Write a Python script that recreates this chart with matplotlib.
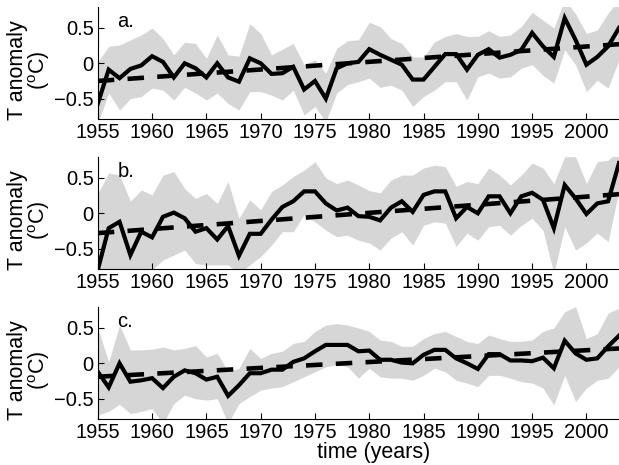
import numpy as np
import matplotlib.pyplot as plt

plt.rcParams['font.family'] = ['Liberation Sans', 'DejaVu Sans']
plt.rcParams['mathtext.fontset'] = 'custom'
plt.rcParams['mathtext.rm'] = 'Liberation Sans'

years = np.arange(1955, 2004)
trend_years = [1955, 2003]

# panel a
mean_a = [-0.57, -0.09, -0.21, -0.08, -0.03, 0.10, 0.02, -0.20, 0.00, -0.07,
          -0.20, 0.00, -0.20, -0.26, 0.07, 0.00, -0.15, -0.14, -0.05, -0.37,
          -0.25, -0.50, -0.07, 0.00, 0.02, 0.20, 0.12, 0.05, -0.02, -0.23,
          -0.23, -0.05, 0.13, 0.13, -0.09, 0.12, 0.20, 0.08, 0.12, 0.19,
          0.43, 0.24, 0.09, 0.64, 0.33, -0.02, 0.09, 0.24, 0.50]
upper_a = [0.02, 0.24, 0.26, 0.33, 0.40, 0.50, 0.35, 0.12, 0.30, 0.28,
           0.07, 0.40, 0.12, 0.10, 0.56, 0.42, 0.12, 0.20, 0.28, -0.02,
           0.05, -0.14, 0.21, 0.32, 0.33, 0.58, 0.52, 0.35, 0.28, 0.09,
           0.09, 0.30, 0.38, 0.42, 0.38, 0.38, 0.46, 0.38, 0.40, 0.52,
           0.72, 0.61, 0.50, 0.90, 0.70, 0.42, 0.47, 0.71, 0.90]
lower_a = [-0.85, -0.42, -0.66, -0.50, -0.47, -0.35, -0.38, -0.52, -0.34, -0.42,
           -0.52, -0.42, -0.57, -0.66, -0.40, -0.40, -0.45, -0.52, -0.38, -0.73,
           -0.61, -0.83, -0.42, -0.30, -0.26, -0.21, -0.34, -0.31, -0.38, -0.61,
           -0.47, -0.38, -0.26, -0.26, -0.52, -0.19, -0.14, -0.21, -0.19, -0.07,
           -0.02, -0.17, -0.28, 0.19, -0.02, -0.40, -0.24, -0.35, 0.05]
trend_a = [-0.25, 0.27]

# panel b
mean_b = [-0.80, -0.21, -0.12, -0.59, -0.26, -0.34, -0.05, 0.01, -0.07, -0.26,
          -0.21, -0.37, -0.18, -0.60, -0.29, -0.29, -0.09, 0.09, 0.17, 0.31,
          0.31, 0.14, 0.04, 0.08, -0.04, -0.05, -0.10, 0.08, 0.17, 0.02,
          0.26, 0.31, 0.31, -0.07, 0.09, 0.00, 0.24, 0.24, 0.00, 0.24,
          0.29, 0.19, -0.21, 0.40, 0.21, -0.01, 0.14, 0.17, 0.71]
upper_b = [0.28, 0.57, 0.54, 0.17, 0.33, 0.26, 0.54, 0.59, 0.35, 0.21,
           0.28, 0.14, 0.45, -0.07, 0.19, 0.05, 0.31, 0.40, 0.52, 0.61,
           0.73, 0.50, 0.42, 0.47, 0.40, 0.32, 0.29, 0.47, 0.54, 0.54,
           0.64, 0.68, 0.66, 0.38, 0.45, 0.42, 0.64, 0.54, 0.40, 0.54,
           0.71, 0.64, 0.42, 0.80, 0.80, 0.42, 0.73, 0.75, 0.90]
lower_b = [-0.90, -0.85, -0.85, -0.95, -0.85, -0.80, -0.66, -0.59, -0.52, -0.71,
           -0.73, -0.73, -0.73, -0.85, -0.73, -0.61, -0.45, -0.26, -0.26, -0.02,
           -0.12, -0.24, -0.33, -0.31, -0.38, -0.42, -0.52, -0.35, -0.26, -0.45,
           -0.17, -0.12, -0.14, -0.47, -0.28, -0.38, -0.19, -0.17, -0.31, -0.17,
           -0.07, -0.24, -0.85, -0.19, -0.52, -0.42, -0.28, -0.40, 0.33]
trend_b = [-0.28, 0.27]

# panel c
mean_c = [-0.12, -0.34, 0.00, -0.26, -0.24, -0.21, -0.35, -0.19, -0.10, -0.14,
          -0.23, -0.19, -0.46, -0.31, -0.14, -0.14, -0.09, -0.09, 0.02, 0.07,
          0.17, 0.26, 0.26, 0.26, 0.17, 0.18, 0.05, 0.05, 0.01, 0.00,
          0.12, 0.19, 0.19, 0.07, 0.00, -0.08, 0.13, 0.13, 0.04, 0.04,
          0.03, 0.08, -0.07, 0.32, 0.14, 0.05, 0.07, 0.24, 0.39]
upper_c = [0.50, 0.02, 0.54, 0.19, 0.19, 0.20, 0.23, 0.19, 0.21, 0.25,
           0.09, 0.14, -0.12, -0.07, 0.21, 0.07, 0.14, 0.17, 0.28, 0.31,
           0.45, 0.54, 0.56, 0.54, 0.50, 0.45, 0.33, 0.31, 0.24, 0.24,
           0.35, 0.42, 0.45, 0.38, 0.31, 0.28, 0.40, 0.35, 0.31, 0.31,
           0.33, 0.45, 0.50, 0.73, 0.80, 0.35, 0.42, 0.71, 0.78]
lower_c = [-0.73, -0.68, -0.58, -0.71, -0.68, -0.64, -0.85, -0.57, -0.45, -0.50,
           -0.52, -0.50, -0.85, -0.57, -0.47, -0.38, -0.35, -0.33, -0.26, -0.19,
           -0.12, -0.05, -0.02, -0.05, -0.21, -0.07, -0.19, -0.21, -0.21, -0.24,
           -0.17, -0.07, -0.12, -0.24, -0.28, -0.33, -0.17, -0.17, -0.21, -0.26,
           -0.28, -0.35, -0.59, -0.17, -0.54, -0.35, -0.24, -0.21, -0.05]
trend_c = [-0.19, 0.21]

panels = [('a.', mean_a, upper_a, lower_a, trend_a),
          ('b.', mean_b, upper_b, lower_b, trend_b),
          ('c.', mean_c, upper_c, lower_c, trend_c)]

fig = plt.figure(figsize=(6.19, 4.65), dpi=100)
bottoms = [0.7437, 0.4211, 0.0985]

for (tag, mean, upper, lower, trend), b in zip(panels, bottoms):
    ax = fig.add_axes([0.158, b, 0.842, 0.2419])
    ax.fill_between(years, lower, upper, color='#d6d6d6', lw=0)
    ax.plot(trend_years, trend, color='k', lw=3.3, dashes=(3.6, 2.9))
    ax.plot(years, mean, color='k', lw=3.0, solid_joinstyle='miter')
    ax.set_xlim(1955, 2003)
    ax.set_ylim(-0.79, 0.8)
    ax.set_xticks(range(1955, 2001, 5))
    ax.set_yticks([-0.5, 0, 0.5])
    ax.set_yticklabels(['\u22120.5', '0', '0.5'])
    ax.tick_params(direction='in', length=4, width=0.8, labelsize=14.5, pad=3)
    ax.spines['top'].set_visible(False)
    ax.spines['right'].set_visible(False)
    ax.set_ylabel('T anomaly\n($^{\\rm o}$C)', fontsize=15.5, linespacing=0.95)
    ax.yaxis.set_label_coords(-0.087, 0.437)
    ax.text(1956.8, 0.59, tag, fontsize=14.5, va='center')

fig.text(0.603, 0.026, 'time (years)', fontsize=15.5, ha='center', va='center')

fig.savefig('out.png', dpi=100)
